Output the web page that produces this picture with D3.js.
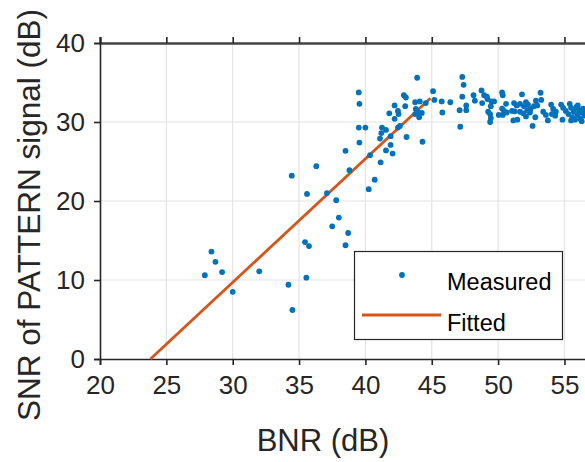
<!DOCTYPE html>
<html><head><meta charset="utf-8">
<script src="https://cdn.jsdelivr.net/npm/d3@7"></script>
<style>body{margin:0;background:#fff}svg{display:block;font-family:"Liberation Sans",Arial,Helvetica,sans-serif}</style>
</head><body><svg id="c" width="585" height="462"></svg>
<script>
const bnr = [27.9,28.4,28.7,29.2,30.0,32.0,34.2,34.5,34.45,35.45,35.55,35.6,35.75,36.3,37.1,37.5,37.8,38.0,38.5,38.5,38.7,38.8,
39.5,39.55,39.5,39.55,40.0,40.25,40.35,40.7,41.15,41.1,41.2,41.25,41.55,41.55,41.8,41.9,41.9,42.05,42.2,42.2,42.45,42.5,42.45,42.6,
42.9,43.0,43.05,43.1,43.75,43.8,43.75,43.9,44.0,44.05,44.1,44.25,44.3,44.55,45.1,45.2,45.75,45.8,46.4,47.1,47.15,47.3,47.4,47.3,
47.6,47.6,48.15,48.25,48.75,48.8,48.95,49.15,49.2,49.5,49.7,49.45,49.25,49.4,49.45,49.4,50.3,50.35,50.6,50.3,50.45,50.65,50.05,50.35,
51.2,51.4,51.05,51.25,51.15,51.45,51.8,51.65,51.95,52.1,52.25,51.65,51.9,52.2,52.4,52.1,52.6,52.45,52.7,52.85,53.2,52.8,52.95,53.25,
53.4,53.6,53.75,54.0,54.15,54.35,54.05,54.3,54.75,54.9,54.85,55.1,55.4,55.5,55.3,55.6,55.7,55.9,56.0,56.1,56.2,56.3,56.4,56.5,55.8,
56.55,56.0,55.5,56.3];
const snr = [10.6,13.6,12.3,11.0,8.5,11.1,9.4,6.2,23.2,14.8,10.3,20.9,14.3,24.4,21.0,16.8,20.1,17.9,26.35,14.4,15.95,23.9,
33.75,32.3,29.3,27.4,29.3,21.5,25.8,22.7,24.9,27.9,28.6,29.3,29.0,26.4,31.1,28.2,27.1,26.0,32.1,30.4,31.4,31.0,29.3,29.5,
33.4,32.0,33.1,28.1,32.5,31.65,31.0,35.6,31.2,30.6,32.6,31.15,27.5,32.4,33.9,32.8,32.6,31.2,32.5,31.5,29.4,35.7,34.7,33.2,
32.1,31.5,33.4,32.7,34.0,32.4,33.4,33.2,32.9,32.6,32.6,32.0,31.3,31.0,30.5,30.0,33.75,33.4,32.3,31.7,31.4,31.2,30.9,30.9,
32.4,32.1,31.4,31.35,30.2,30.3,33.5,32.3,32.0,32.5,32.2,31.3,31.1,31.5,31.2,30.7,29.5,31.65,32.0,32.7,33.7,30.6,32.1,32.8,
31.3,30.9,30.2,32.2,31.65,31.3,31.0,30.8,32.2,31.8,30.3,31.4,32.3,31.8,31.0,30.6,31.3,31.9,30.9,31.5,30.4,31.2,31.7,30.8,30.3,
31.4,32.1,30.2,30.1];
const fitX = [23.8, 44.9];
const fitY = [0, 33.0];
const xTicks = [20,25,30,35,40,45,50,55];
const yTicks = [0,10,20,30,40];
const legendLabels = ["Measured","Fitted"];

const svg = d3.select("#c");
const L=100, T=43, B=359;
const x = d3.scaleLinear().domain([20,60]).range([L, L+40*13.27]);
const y = d3.scaleLinear().domain([0,40]).range([B, T]);
const axisCol = "#262626";

// grid
const g = svg.append("g");
g.selectAll(".gx").data(xTicks.filter(d=>d>20)).join("line")
 .attr("x1",d=>x(d)).attr("x2",d=>x(d)).attr("y1",T).attr("y2",B)
 .attr("stroke","#e3e3e3").attr("stroke-width",1.2);
g.selectAll(".gy").data(yTicks.filter(d=>d>0&&d<40)).join("line")
 .attr("x1",L).attr("x2",x(60)).attr("y1",d=>y(d)).attr("y2",d=>y(d))
 .attr("stroke","#e3e3e3").attr("stroke-width",1.2);

// axes
const fs = 26;
const xa = d3.axisBottom(x).tickValues(xTicks).tickSize(6).tickPadding(11);
const xg = svg.append("g").attr("transform",`translate(0,${B})`).call(xa);
const xt = d3.axisTop(x).tickValues(xTicks).tickSize(6).tickFormat("");
const tg = svg.append("g").attr("transform",`translate(0,${T})`).call(xt);
const ya = d3.axisLeft(y).tickValues(yTicks).tickSize(6).tickPadding(9);
const yg = svg.append("g").attr("transform",`translate(${L},0)`).call(ya);
[xg,tg,yg].forEach(a=>{
  a.select(".domain").attr("stroke",axisCol).attr("stroke-width",1.6);
  a.selectAll(".tick line").attr("stroke",axisCol).attr("stroke-width",1.6);
  a.selectAll(".tick text").attr("fill",axisCol).style("font-size",fs+"px").style("font-family","Liberation Sans, Arial, sans-serif");
});
tg.select(".domain").attr("stroke","#444").attr("stroke-width",2.4);

// fit line
svg.append("line")
 .attr("x1",x(fitX[0])).attr("y1",y(fitY[0])).attr("x2",x(fitX[1])).attr("y2",y(fitY[1]))
 .attr("stroke","#D95319").attr("stroke-width",2.8);

// points
svg.append("g").selectAll("circle").data(bnr.map((d,i)=>[d,snr[i]])).join("circle")
 .attr("cx",d=>x(d[0])).attr("cy",d=>y(d[1])).attr("r",2.9).attr("fill","#0072BD");

// labels
svg.append("text").attr("x",323).attr("y",451).attr("text-anchor","middle")
 .attr("fill",axisCol).style("font-size","31px").text("BNR (dB)");
svg.append("text").attr("transform",`translate(40,${(T+B)/2+14}) rotate(-90)`).attr("text-anchor","middle")
 .attr("fill",axisCol).style("font-size","31.5px").text("SNR of PATTERN signal (dB)");

// legend
const lg = svg.append("g");
lg.append("rect").attr("x",354.5).attr("y",251.5).attr("width",208).attr("height",88)
 .attr("fill","#fff").attr("stroke",axisCol).attr("stroke-width",1.2);
lg.append("circle").attr("cx",402).attr("cy",275).attr("r",2.9).attr("fill","#0072BD");
lg.append("line").attr("x1",362).attr("x2",441).attr("y1",315).attr("y2",315).attr("stroke","#D95319").attr("stroke-width",2.8);
lg.selectAll("text.l").data(legendLabels).join("text").attr("x",447).attr("y",(d,i)=>i?331:290)
 .attr("fill","#000").style("font-size","23.5px").text(d=>d);
</script></body></html>
